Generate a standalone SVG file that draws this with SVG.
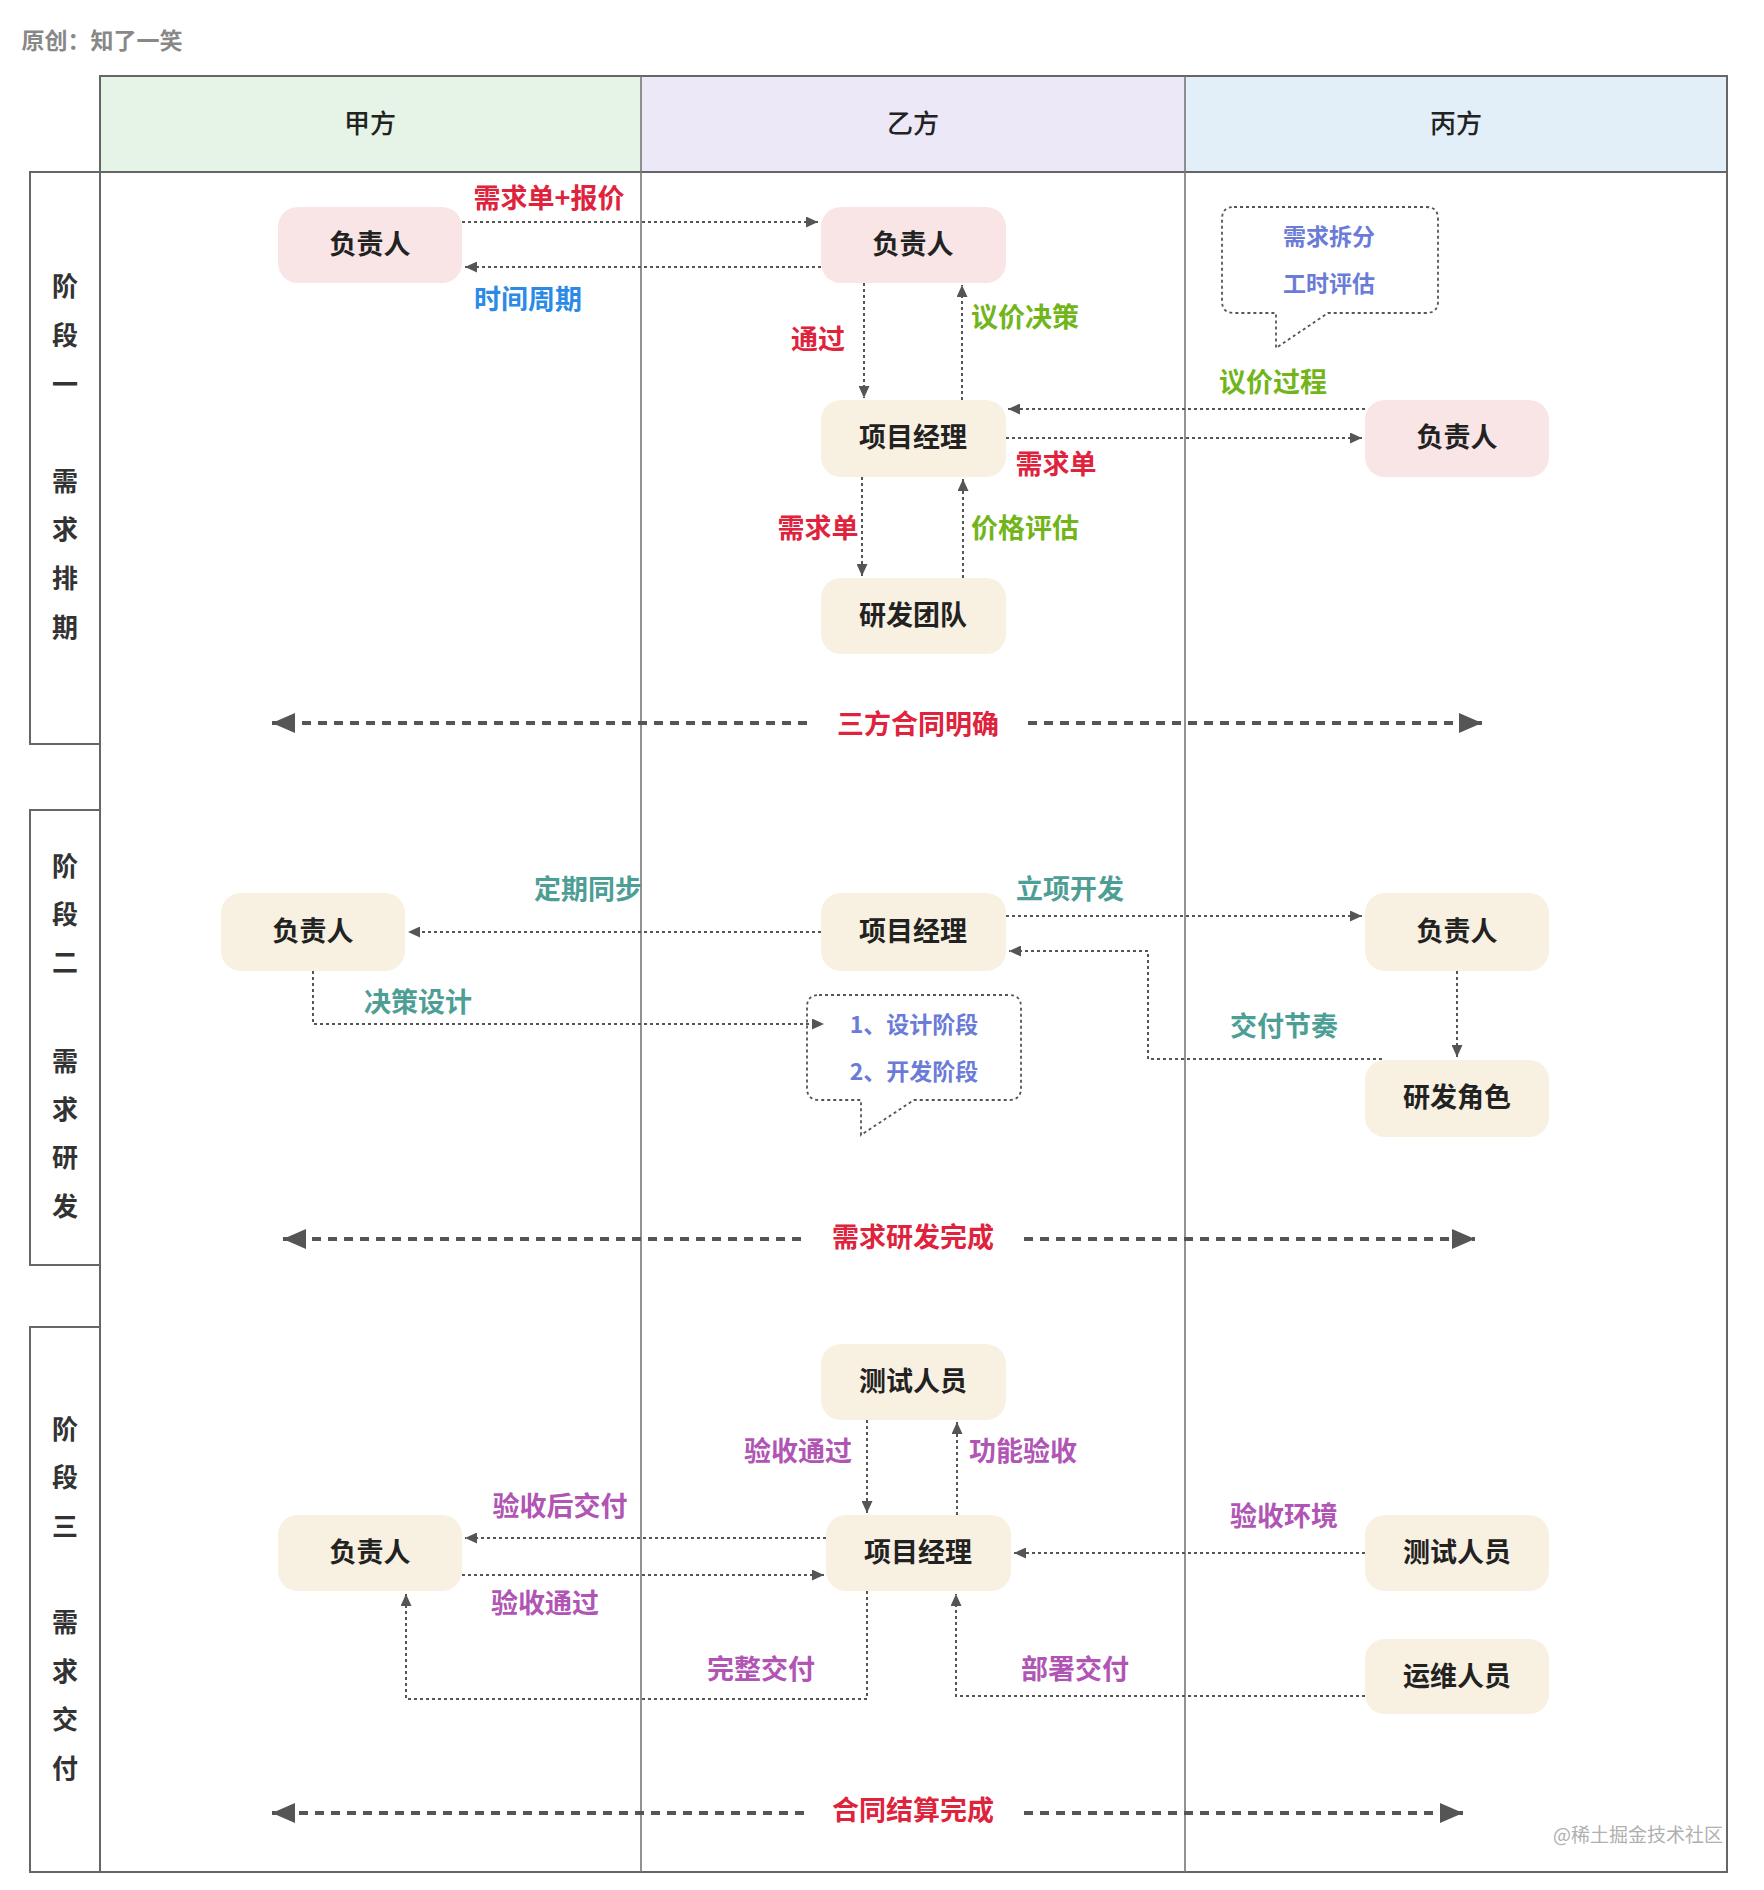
<svg xmlns="http://www.w3.org/2000/svg" width="1764" height="1890" viewBox="0 0 1764 1890">
<style>
text{font-family:"Noto Sans CJK SC","Noto Sans",sans-serif;dominant-baseline:central;text-anchor:middle;transform:translateY(-3px)}
.grid{fill:none;stroke:#666;stroke-width:2}
.inner{stroke:#777;stroke-width:1.6}
.hdr{font-size:26px;font-weight:500;fill:#222}
.ph{font-size:26px;font-weight:700;fill:#333}
.pink{fill:#f9e5e6}
.beige{fill:#f8f1e1}
.nt{font-size:27px;font-weight:700;fill:#222}
.c{fill:none;stroke:#555;stroke-width:2;stroke-dasharray:3 3}
.big{fill:none;stroke:#555;stroke-width:4;stroke-dasharray:9 7}
.bub{fill:#fff;stroke:#555;stroke-width:1.8;stroke-dasharray:3 3}
.bt{font-size:23px;font-weight:700;fill:#6b7bd8}
.l{font-size:27px;font-weight:700}
.red{fill:#e0233c}.blue{fill:#2a8ae6}.green{fill:#72b51b}.teal{fill:#4d9e95}.mag{fill:#b155b5}
</style>
<defs>
<marker id="a" markerUnits="userSpaceOnUse" markerWidth="13" markerHeight="11" refX="12" refY="5.5" orient="auto"><path d="M0,0 L12,5.5 L0,11 z" fill="#555"/></marker>
<marker id="A" markerUnits="userSpaceOnUse" markerWidth="24" markerHeight="20" refX="23" refY="10" orient="auto"><path d="M0,0 L23,10 L0,20 z" fill="#555"/></marker>
</defs>

<text x="102" y="42" style="font-size:23px;font-weight:700;fill:#888">原创：知了一笑</text>

<g id="table">
<rect x="100" y="76" width="541" height="96" fill="#e6f4e7"/>
<rect x="641" y="76" width="544" height="96" fill="#ece8f7"/>
<rect x="1185" y="76" width="542" height="96" fill="#e2eff9"/>
<rect class="grid" x="100" y="76" width="1627" height="1796"/>
<line class="grid" x1="100" y1="172" x2="1727" y2="172"/>
<line class="grid inner" x1="641" y1="76" x2="641" y2="1872"/>
<line class="grid inner" x1="1185" y1="76" x2="1185" y2="1872"/>
<text class="hdr" x="370" y="124">甲方</text>
<text class="hdr" x="913" y="124">乙方</text>
<text class="hdr" x="1456" y="124">丙方</text>
</g>

<g id="phase1">
<rect class="grid" x="30" y="172" width="70" height="572"/>
<text class="ph" x="65" y="287">阶</text><text class="ph" x="65" y="336">段</text><text class="ph" x="65" y="385">一</text>
<text class="ph" x="65" y="482">需</text><text class="ph" x="65" y="530">求</text><text class="ph" x="65" y="579">排</text><text class="ph" x="65" y="628">期</text>
</g>
<g id="phase2">
<rect class="grid" x="30" y="810" width="70" height="455"/>
<text class="ph" x="65" y="867">阶</text><text class="ph" x="65" y="915">段</text><text class="ph" x="65" y="963">二</text>
<text class="ph" x="65" y="1062">需</text><text class="ph" x="65" y="1110">求</text><text class="ph" x="65" y="1158">研</text><text class="ph" x="65" y="1207">发</text>
</g>
<g id="phase3">
<rect class="grid" x="30" y="1327" width="70" height="545"/>
<text class="ph" x="65" y="1430">阶</text><text class="ph" x="65" y="1478">段</text><text class="ph" x="65" y="1527">三</text>
<text class="ph" x="65" y="1623">需</text><text class="ph" x="65" y="1672">求</text><text class="ph" x="65" y="1720">交</text><text class="ph" x="65" y="1769">付</text>
</g>

<g id="bubbles">
<g id="bubble1">
<path class="bub" d="M1234,207 H1426 Q1438,207 1438,219 V301 Q1438,313 1426,313 H1328 L1276,348 V313 H1234 Q1222,313 1222,301 V219 Q1222,207 1234,207 Z"/>
<text class="bt" x="1329" y="238">需求拆分</text>
<text class="bt" x="1329" y="285">工时评估</text>
</g>
<g id="bubble2">
<path class="bub" d="M819,995 H1009 Q1021,995 1021,1007 V1088 Q1021,1100 1009,1100 H914 L861,1135 V1100 H819 Q807,1100 807,1088 V1007 Q807,995 819,995 Z"/>
<text class="bt" x="914" y="1026">1、设计阶段</text>
<text class="bt" x="914" y="1073">2、开发阶段</text>
</g>
</g>

<g id="connectors">
<path class="c" d="M462,222 H818" marker-end="url(#a)"/>
<path class="c" d="M821,267 H465" marker-end="url(#a)"/>
<path class="c" d="M864,283 V398" marker-end="url(#a)"/>
<path class="c" d="M962,400 V285" marker-end="url(#a)"/>
<path class="c" d="M1365,409 H1008" marker-end="url(#a)"/>
<path class="c" d="M1006,438 H1362" marker-end="url(#a)"/>
<path class="c" d="M862,477 V576" marker-end="url(#a)"/>
<path class="c" d="M963,578 V479" marker-end="url(#a)"/>
<path class="big" d="M807,723 H272" marker-end="url(#A)"/>
<path class="big" d="M1028,723 H1482" marker-end="url(#A)"/>

<path class="c" d="M821,932 H408" marker-end="url(#a)"/>
<path class="c" d="M313,971 V1024 H824" marker-end="url(#a)"/>
<path class="c" d="M1006,916 H1362" marker-end="url(#a)"/>
<path class="c" d="M1382,1059 H1148 V951 H1009" marker-end="url(#a)"/>
<path class="c" d="M1457,971 V1057" marker-end="url(#a)"/>
<path class="big" d="M801,1239 H283" marker-end="url(#A)"/>
<path class="big" d="M1024,1239 H1475" marker-end="url(#A)"/>

<path class="c" d="M867,1420 V1513" marker-end="url(#a)"/>
<path class="c" d="M957,1515 V1422" marker-end="url(#a)"/>
<path class="c" d="M826,1538 H465" marker-end="url(#a)"/>
<path class="c" d="M462,1575 H824" marker-end="url(#a)"/>
<path class="c" d="M867,1591 V1699 H406 V1594" marker-end="url(#a)"/>
<path class="c" d="M1365,1553 H1014" marker-end="url(#a)"/>
<path class="c" d="M1365,1696 H956 V1594" marker-end="url(#a)"/>
<path class="big" d="M804,1813 H272" marker-end="url(#A)"/>
<path class="big" d="M1024,1813 H1463" marker-end="url(#A)"/>
</g>

<g id="labels">
<text class="l red" x="549" y="199">需求单+报价</text>
<text class="l blue" x="528" y="300">时间周期</text>
<text class="l red" x="818" y="340">通过</text>
<text class="l green" x="1025" y="318">议价决策</text>
<text class="l green" x="1273" y="383">议价过程</text>
<text class="l red" x="1056" y="465">需求单</text>
<text class="l red" x="818" y="529">需求单</text>
<text class="l green" x="1025" y="529">价格评估</text>
<text class="l red" x="918" y="725">三方合同明确</text>
<text class="l teal" x="588" y="890">定期同步</text>
<text class="l teal" x="418" y="1003">决策设计</text>
<text class="l teal" x="1070" y="890">立项开发</text>
<text class="l teal" x="1284" y="1027">交付节奏</text>
<text class="l red" x="913" y="1238">需求研发完成</text>
<text class="l mag" x="798" y="1452">验收通过</text>
<text class="l mag" x="1023" y="1452">功能验收</text>
<text class="l mag" x="560" y="1507">验收后交付</text>
<text class="l mag" x="545" y="1604">验收通过</text>
<text class="l mag" x="761" y="1670">完整交付</text>
<text class="l mag" x="1284" y="1517">验收环境</text>
<text class="l mag" x="1075" y="1670">部署交付</text>
<text class="l red" x="913" y="1811">合同结算完成</text>
</g>

<g id="n1_jia"><rect class="pink" x="278" y="207" width="184" height="76" rx="20"/><text class="nt" x="370" y="245">负责人</text></g>
<g id="n1_yi"><rect class="pink" x="821" y="207" width="185" height="76" rx="20"/><text class="nt" x="913" y="245">负责人</text></g>
<g id="n1_pm"><rect class="beige" x="821" y="400" width="185" height="77" rx="20"/><text class="nt" x="913" y="438">项目经理</text></g>
<g id="n1_dev"><rect class="beige" x="821" y="578" width="185" height="76" rx="20"/><text class="nt" x="913" y="616">研发团队</text></g>
<g id="n1_bing"><rect class="pink" x="1365" y="400" width="184" height="77" rx="20"/><text class="nt" x="1457" y="438">负责人</text></g>

<g id="n2_jia"><rect class="beige" x="221" y="893" width="184" height="78" rx="20"/><text class="nt" x="313" y="932">负责人</text></g>
<g id="n2_pm"><rect class="beige" x="821" y="893" width="185" height="78" rx="20"/><text class="nt" x="913" y="932">项目经理</text></g>
<g id="n2_bing"><rect class="beige" x="1365" y="893" width="184" height="78" rx="20"/><text class="nt" x="1457" y="932">负责人</text></g>
<g id="n2_dev"><rect class="beige" x="1365" y="1060" width="184" height="77" rx="20"/><text class="nt" x="1457" y="1098">研发角色</text></g>

<g id="n3_test"><rect class="beige" x="821" y="1344" width="185" height="76" rx="20"/><text class="nt" x="913" y="1382">测试人员</text></g>
<g id="n3_jia"><rect class="beige" x="278" y="1515" width="184" height="76" rx="20"/><text class="nt" x="370" y="1553">负责人</text></g>
<g id="n3_pm"><rect class="beige" x="826" y="1515" width="185" height="76" rx="20"/><text class="nt" x="918" y="1553">项目经理</text></g>
<g id="n3_btest"><rect class="beige" x="1365" y="1515" width="184" height="76" rx="20"/><text class="nt" x="1457" y="1553">测试人员</text></g>
<g id="n3_ops"><rect class="beige" x="1365" y="1639" width="184" height="75" rx="20"/><text class="nt" x="1457" y="1677">运维人员</text></g>

<text x="1638" y="1836" style="font-size:19px;fill:#b0b0b0">@稀土掘金技术社区</text>
</svg>
